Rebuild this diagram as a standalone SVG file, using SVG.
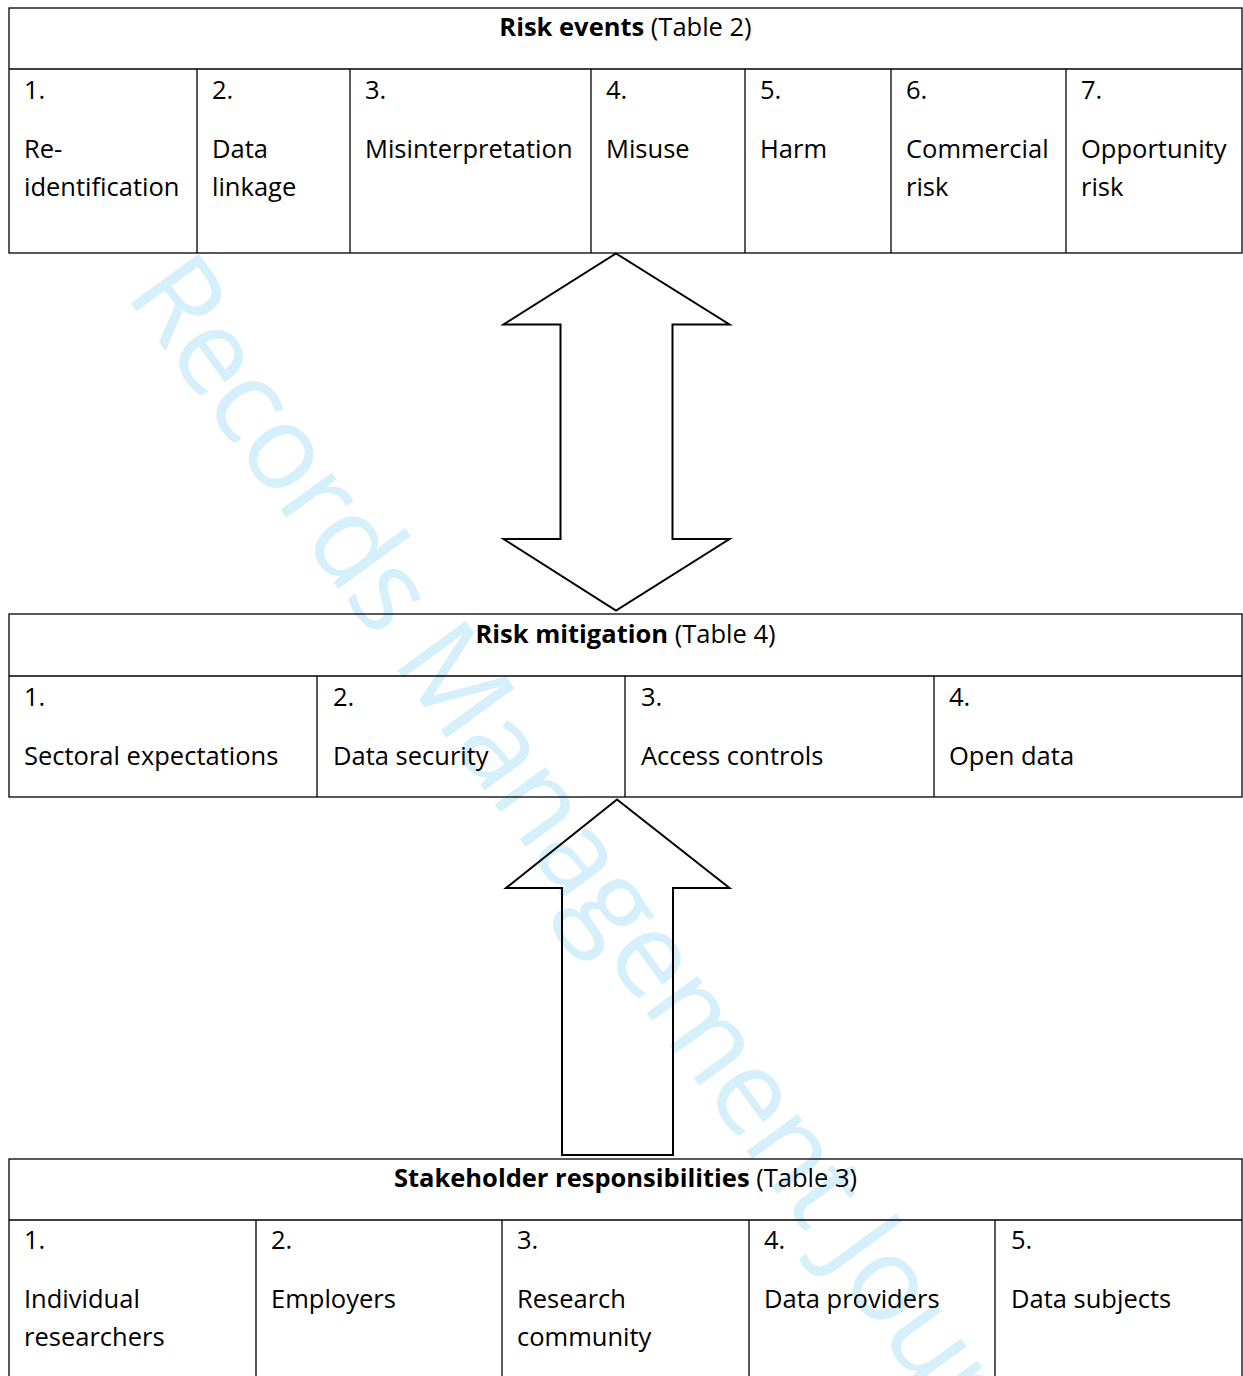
<svg xmlns="http://www.w3.org/2000/svg" width="1243" height="1376" viewBox="0 0 1243 1376">
<style>
.bg{fill:#fff}
.box{fill:none;stroke:#000;stroke-width:1.3}
.ln{stroke:#000;stroke-width:1.3}
.t{font-family:"Open Sans","Liberation Sans",sans-serif;font-size:25.5px;fill:#000}
.h{text-anchor:middle}
.b{font-weight:bold}
.arrow{fill:none;stroke:#000;stroke-width:2;stroke-linejoin:miter}
.wm{font-family:"Open Sans","Liberation Sans",sans-serif;font-size:118px;letter-spacing:-2.5px;fill:#d5effb}
</style>
<rect class="bg" x="0" y="0" width="1243" height="1376"/>

<g id="watermark">
  <text class="wm" transform="translate(124,294) rotate(54)">Records Management Journal</text>
</g>

<g id="risk-events">
  <rect class="box" x="9" y="8" width="1233" height="245"/>
  <line class="ln" x1="9" y1="69" x2="1242" y2="69"/>
  <line class="ln" x1="197" y1="69" x2="197" y2="253"/>
  <line class="ln" x1="350" y1="69" x2="350" y2="253"/>
  <line class="ln" x1="591" y1="69" x2="591" y2="253"/>
  <line class="ln" x1="745" y1="69" x2="745" y2="253"/>
  <line class="ln" x1="891" y1="69" x2="891" y2="253"/>
  <line class="ln" x1="1066" y1="69" x2="1066" y2="253"/>
  <text class="t h" x="625.5" y="36"><tspan class="b">Risk events</tspan> (Table 2)</text>
  <text class="t" x="24" y="99">1.</text>
  <text class="t" x="24" y="158">Re-</text>
  <text class="t" x="24" y="196">identification</text>
  <text class="t" x="212" y="99">2.</text>
  <text class="t" x="212" y="158">Data</text>
  <text class="t" x="212" y="196">linkage</text>
  <text class="t" x="365" y="99">3.</text>
  <text class="t" x="365" y="158">Misinterpretation</text>
  <text class="t" x="606" y="99">4.</text>
  <text class="t" x="606" y="158">Misuse</text>
  <text class="t" x="760" y="99">5.</text>
  <text class="t" x="760" y="158">Harm</text>
  <text class="t" x="906" y="99">6.</text>
  <text class="t" x="906" y="158">Commercial</text>
  <text class="t" x="906" y="196">risk</text>
  <text class="t" x="1081" y="99">7.</text>
  <text class="t" x="1081" y="158">Opportunity</text>
  <text class="t" x="1081" y="196">risk</text>
</g>

<g id="risk-mitigation">
  <rect class="box" x="9" y="614" width="1233" height="183"/>
  <line class="ln" x1="9" y1="676" x2="1242" y2="676"/>
  <line class="ln" x1="317" y1="676" x2="317" y2="797"/>
  <line class="ln" x1="625" y1="676" x2="625" y2="797"/>
  <line class="ln" x1="934" y1="676" x2="934" y2="797"/>
  <text class="t h" x="625.5" y="643"><tspan class="b">Risk mitigation</tspan> (Table 4)</text>
  <text class="t" x="24" y="706">1.</text>
  <text class="t" x="24" y="765">Sectoral expectations</text>
  <text class="t" x="333" y="706">2.</text>
  <text class="t" x="333" y="765">Data security</text>
  <text class="t" x="641" y="706">3.</text>
  <text class="t" x="641" y="765">Access controls</text>
  <text class="t" x="949" y="706">4.</text>
  <text class="t" x="949" y="765">Open data</text>
</g>

<g id="stakeholder-responsibilities">
  <rect class="box" x="9" y="1159" width="1233" height="260"/>
  <line class="ln" x1="9" y1="1220" x2="1242" y2="1220"/>
  <line class="ln" x1="256" y1="1220" x2="256" y2="1420"/>
  <line class="ln" x1="502" y1="1220" x2="502" y2="1420"/>
  <line class="ln" x1="749" y1="1220" x2="749" y2="1420"/>
  <line class="ln" x1="995" y1="1220" x2="995" y2="1420"/>
  <text class="t h" x="625.5" y="1187"><tspan class="b">Stakeholder responsibilities</tspan> (Table 3)</text>
  <text class="t" x="24" y="1249">1.</text>
  <text class="t" x="24" y="1308">Individual</text>
  <text class="t" x="24" y="1346">researchers</text>
  <text class="t" x="271" y="1249">2.</text>
  <text class="t" x="271" y="1308">Employers</text>
  <text class="t" x="517" y="1249">3.</text>
  <text class="t" x="517" y="1308">Research</text>
  <text class="t" x="517" y="1346">community</text>
  <text class="t" x="764" y="1249">4.</text>
  <text class="t" x="764" y="1308">Data providers</text>
  <text class="t" x="1011" y="1249">5.</text>
  <text class="t" x="1011" y="1308">Data subjects</text>
</g>

<g id="connectors">
  <polygon class="arrow" points="616,253.5 729.5,324.5 672.5,324.5 672.5,539 729.5,539 616,610.5 503.5,539 560.5,539 560.5,324.5 503.5,324.5"/>
  <polygon class="arrow" points="617,799.5 729.5,888 673,888 673,1155 562,1155 562,888 506,888"/>
</g>
</svg>
